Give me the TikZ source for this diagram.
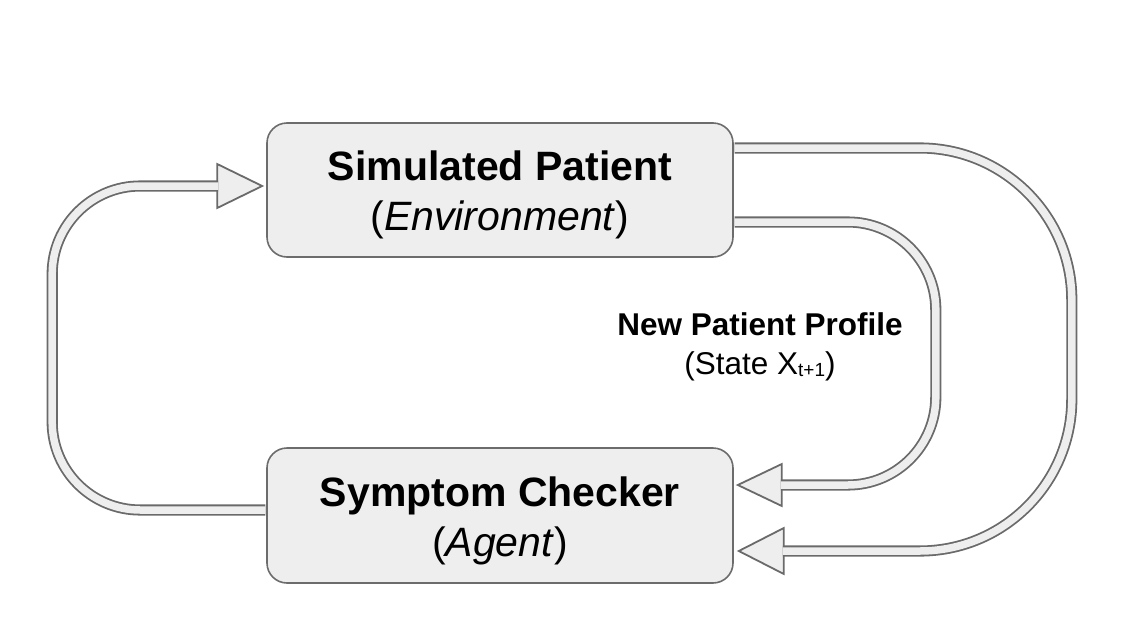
\documentclass[tikz,border=0pt]{standalone}
\usepackage{fontspec}
\setmainfont{Liberation Sans}
\definecolor{boxline}{HTML}{6C6C6C}
\definecolor{tubeline}{HTML}{6A6A6A}
\definecolor{boxfill}{HTML}{EEEEEE}
\begin{document}
\begin{tikzpicture}[x=1pt,y=-1pt,
  box/.style={draw=boxline, fill=boxfill, line width=1.6pt, rounded corners=20pt,
    minimum width=466pt, minimum height=134pt, inner sep=0pt},
  boxtext/.style={align=center, inner sep=0pt, font=\fontsize{41}{50}\selectfont},
  tube/.style={draw=tubeline, double=boxfill, double distance=7.5pt, line width=1.8pt},
  head/.style={draw=tubeline, fill=boxfill, line width=1.8pt, line join=miter},
  lbl/.style={align=center, inner sep=0pt, font=\fontsize{31.5}{39}\selectfont}]
\useasboundingbox (0,0) rectangle (1125,643);

\node[box] (env) at (500,190) {};
\node[boxtext] (envtext) at ([yshift=-5pt]env.center) {\textbf{Simulated Patient}\\(\textit{Environment})};
\node[box, minimum height=135pt] (agent) at (500,515.5) {};
\node[boxtext] (agenttext) at ([yshift=-5pt]agent.center) {\textbf{Symptom Checker}\\(\textit{Agent})};

\node[lbl] (label) at (760,347) {\textbf{New Patient Profile}\\(State X{\fontsize{19}{19}\selectfont\raisebox{-2pt}{t+1}})};

% tips, starts and bases
\coordinate (t1) at ([xshift=-4pt,yshift=4pt]env.west);
\coordinate (b1) at ([xshift=-44pt]t1);
\coordinate (s1) at ([xshift=-0.8pt,yshift=5.5pt]agent.west);

\coordinate (t2) at ([xshift=5pt,yshift=-35.5pt]agent.east);
\coordinate (b2) at ([xshift=44pt]t2);
\coordinate (s2) at ([xshift=0.8pt,yshift=42pt]env.east);

\coordinate (t3) at ([xshift=4pt,yshift=30.5pt]agent.east);
\coordinate (b3) at ([xshift=43pt]t3);
\coordinate (s3) at ([xshift=0.8pt,yshift=-32pt]env.east);

% arrow heads
\draw[head] (t1) -- ++(-45,-22) -- ++(0,44) -- cycle;
\draw[head] (t2) -- ++(45,-23) -- ++(0,46) -- cycle;
\draw[head] (t3) -- ++(44,-21) -- ++(0,42) -- cycle;

% tubes
\draw[tube, rounded corners=88pt] (s1) -| ([xshift=-166pt]b1) -- (b1);
\draw[tube, rounded corners=152pt] (s2) -| ([xshift=289pt]b2) -- (b2);
\draw[tube, rounded corners=88pt] (s3) -| ([xshift=155pt]b3) -- (b3);
\end{tikzpicture}
\end{document}
